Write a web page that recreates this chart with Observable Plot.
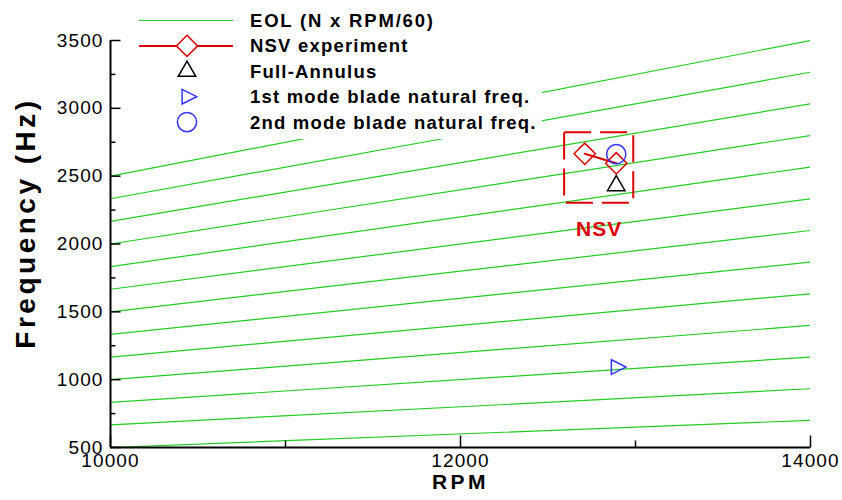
<!DOCTYPE html>
<html>
<head>
<meta charset="utf-8">
<script src="https://cdn.jsdelivr.net/npm/d3@7"></script>
<script src="https://cdn.jsdelivr.net/npm/@observablehq/plot@0.6"></script>
<style>
  html, body { margin: 0; padding: 0; background: #fff; }
  #chart { position: relative; width: 842px; height: 500px; }
  #legend { position: absolute; left: 121px; top: 0; }
</style>
</head>
<body>
<div id="chart"></div>
<script>
// ---- data ----
const eolOrders = [3, 4, 5, 6, 7, 8, 9, 10, 11, 12, 13, 14, 15];
const rpmRange = [10000, 14000];
const freqRange = [500, 3500];

const nsvRpm = [12710, 12890];
const nsvFreq = [2665, 2595];
const fullAnnulusRpm = [12890];
const fullAnnulusFreq = [2430];
const mode1Rpm = [12890];
const mode1Freq = [1093];
const mode2Rpm = [12890];
const mode2Freq = [2662];

const nsvBoxRpm = [12595, 12990];
const nsvBoxFreq = [2300, 2820];
const nsvBoxLabel = "NSV";

const xMajor = [10000, 12000, 14000];
const xMinor = [11000, 13000];
const yMajor = [500, 1000, 1500, 2000, 2500, 3000, 3500];
const yMinor = [750, 1250, 1750, 2250, 2750, 3250];

const xTitle = "RPM";
const yTitle = "Frequency (Hz)";
const legendLabels = [
  "EOL (N x RPM/60)",
  "NSV experiment",
  "Full-Annulus",
  "1st mode blade natural freq.",
  "2nd mode blade natural freq."
];

// ---- colours ----
const green = "#22cc22";
const red = "#dd0000";
const blue = "#3333ff";

// ---- derived tables ----
const eol = eolOrders.flatMap(N => rpmRange.map(rpm => ({N, rpm, freq: N * rpm / 60})));
const nsv = nsvRpm.map((rpm, i) => ({rpm, freq: nsvFreq[i]}));
const full = fullAnnulusRpm.map((rpm, i) => ({rpm, freq: fullAnnulusFreq[i]}));
const mode1 = mode1Rpm.map((rpm, i) => ({rpm, freq: mode1Freq[i]}));
const mode2 = mode2Rpm.map((rpm, i) => ({rpm, freq: mode2Freq[i]}));
const nsvBox = [{x1: nsvBoxRpm[0], x2: nsvBoxRpm[1], y1: nsvBoxFreq[0], y2: nsvBoxFreq[1], label: nsvBoxLabel}];

// ---- symbols ----
// right-pointing triangle, centred on its centroid
const triangleRight = {
  draw(ctx, size) {
    const r = Math.sqrt(size / Math.PI);
    ctx.moveTo(-0.67 * r, -r);
    ctx.lineTo(1.33 * r, 0);
    ctx.lineTo(-0.67 * r, r);
    ctx.closePath();
  }
};
// inward tick marks drawn as a short segment from the anchor point
const tickSym = (dx, dy) => ({draw(ctx) { ctx.moveTo(0, 0); ctx.lineTo(dx, dy); }});

const R_DIAMOND = 9.6, R_TRI = 6.5, R_TRI_RIGHT = 7.3, R_CIRCLE = 9.6;
const font = "'Liberation Sans', Arial, Helvetica, sans-serif";

const plot = Plot.plot({
  width: 842,
  height: 500,
  marginLeft: 110,
  marginRight: 32,
  marginTop: 40,
  marginBottom: 53,
  x: {domain: rpmRange},
  y: {domain: freqRange},
  style: {fontFamily: font, fontSize: "19px", color: "#000", background: "#fff", overflow: "visible"},
  marks: [
    // engine order lines
    Plot.line(eol, {x: "rpm", y: "freq", z: "N", stroke: green, strokeWidth: 1.2, clip: true}),
    // NSV region
    Plot.rect(nsvBox, {x1: "x1", x2: "x2", y1: "y1", y2: "y2", fill: "none", stroke: red, strokeWidth: 2, strokeDasharray: "27,9"}),
    Plot.text(nsvBox, {x: d => (d.x1 + d.x2) / 2, y: "y1", text: "label", dy: 26, fill: red, fontWeight: "bold", fontSize: 21}),
    // NSV experiment
    Plot.line(nsv, {x: "rpm", y: "freq", stroke: red, strokeWidth: 2}),
    Plot.dot(nsv, {x: "rpm", y: "freq", symbol: "diamond2", r: R_DIAMOND, stroke: red, fill: "none", strokeWidth: 1.5}),
    // Full-annulus
    Plot.dot(full, {x: "rpm", y: "freq", symbol: "triangle", r: R_TRI, stroke: "#000", fill: "none", strokeWidth: 1.5}),
    // blade natural frequencies
    Plot.dot(mode1, {x: "rpm", y: "freq", symbol: triangleRight, r: R_TRI_RIGHT, stroke: blue, fill: "none", strokeWidth: 1.5}),
    Plot.dot(mode2, {x: "rpm", y: "freq", symbol: "circle", r: R_CIRCLE, stroke: blue, fill: "none", strokeWidth: 1.5}),
    // axes lines
    Plot.ruleX([rpmRange[0]], {stroke: "#000", strokeWidth: 2}),
    Plot.ruleY([freqRange[0]], {stroke: "#000", strokeWidth: 2}),
    // inward ticks
    Plot.dot(yMajor, {x: () => rpmRange[0], y: d => d, symbol: tickSym(10, 0), stroke: "#000", fill: "none", strokeWidth: 1.5}),
    Plot.dot(yMinor, {x: () => rpmRange[0], y: d => d, symbol: tickSym(5, 0), stroke: "#000", fill: "none", strokeWidth: 1.5}),
    Plot.dot(xMajor, {x: d => d, y: () => freqRange[0], symbol: tickSym(0, -12), stroke: "#000", fill: "none", strokeWidth: 1.5}),
    Plot.dot(xMinor, {x: d => d, y: () => freqRange[0], symbol: tickSym(0, -7), stroke: "#000", fill: "none", strokeWidth: 1.5}),
    // tick labels
    Plot.axisY({ticks: yMajor, tickSize: 0, tickPadding: 7, tickFormat: d => `${d}`, label: null}),
    Plot.axisX({ticks: xMajor, tickSize: 0, tickPadding: 6, tickFormat: d => `${d}`, label: null}),
    // axis titles
    Plot.text([yTitle], {frameAnchor: "left", textAnchor: "middle", text: d => d, rotate: -90, dx: -84, dy: -21, fontSize: 28, fontWeight: "bold"}),
    Plot.text([xTitle], {frameAnchor: "bottom", textAnchor: "middle", text: d => d, dy: 41, fontSize: 21, fontWeight: "bold"})
  ]
});

// letter spacing of the wide plotter-style lettering
const spacing = new Map([
  [yTitle, "3.5px"],
  [xTitle, "3.5px"],
  [nsvBoxLabel, "1px"],
  ...xMajor.map(d => [`${d}`, "1.1px"]),
  ...yMajor.map(d => [`${d}`, "1.1px"])
]);
d3.select(plot).selectAll("text").each(function() {
  const s = spacing.get(this.textContent);
  if (s) this.style.letterSpacing = s;
});

const chart = document.getElementById("chart");
chart.appendChild(plot);

// ---- legend (white panel over the upper-left of the plot) ----
const lw = 421, lh = 139;
const leg = d3.select(chart).append("svg")
  .attr("id", "legend")
  .attr("width", lw)
  .attr("height", lh);
leg.append("rect").attr("width", lw).attr("height", lh).attr("fill", "#fff");

const symX = 66, lineX0 = 18, lineX1 = 112, textX = 129;
const rowY = i => 20.5 + 25.4 * i;
const sym = (type, r) => d3.symbol(type, Math.PI * r * r)();

legendLabels.forEach((label, i) => {
  const g = leg.append("g").attr("transform", `translate(0,${rowY(i)})`);
  if (i === 0) {
    g.append("line").attr("x1", lineX0).attr("x2", lineX1).attr("stroke", green).attr("stroke-width", 1.2);
  } else if (i === 1) {
    g.append("line").attr("x1", lineX0).attr("x2", lineX1).attr("stroke", red).attr("stroke-width", 2);
    g.append("path").attr("transform", `translate(${symX},0)`).attr("d", sym(d3.symbolDiamond2, R_DIAMOND))
      .attr("fill", "#fff").attr("stroke", red).attr("stroke-width", 1.5);
  } else if (i === 2) {
    g.append("path").attr("transform", `translate(${symX},0)`).attr("d", sym(d3.symbolTriangle, R_TRI))
      .attr("fill", "none").attr("stroke", "#000").attr("stroke-width", 1.5);
  } else if (i === 3) {
    g.append("path").attr("transform", `translate(${symX},0)`).attr("d", sym(triangleRight, R_TRI_RIGHT))
      .attr("fill", "none").attr("stroke", blue).attr("stroke-width", 1.5);
  } else {
    g.append("circle").attr("cx", symX).attr("r", R_CIRCLE)
      .attr("fill", "none").attr("stroke", blue).attr("stroke-width", 1.5);
  }
  g.append("text").attr("x", textX).attr("dy", "0.35em")
    .attr("font-family", font).attr("font-size", 18.5).attr("font-weight", "bold")
    .style("letter-spacing", i === 0 ? "1.8px" : "1.2px").text(label);
});
</script>
</body>
</html>
